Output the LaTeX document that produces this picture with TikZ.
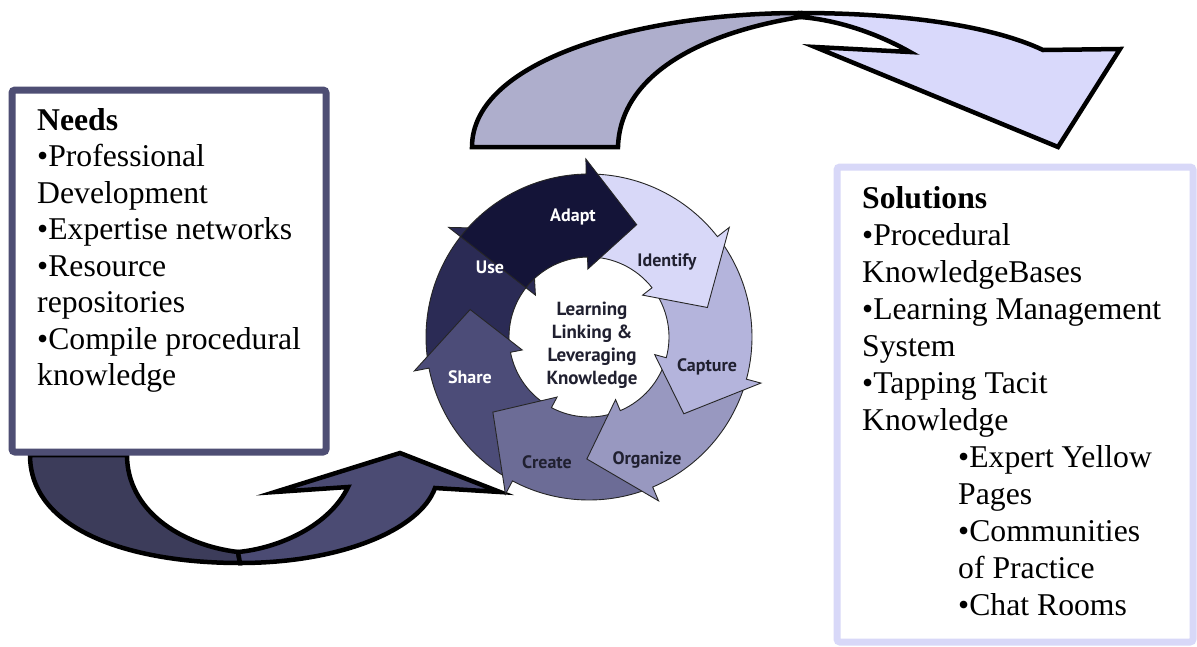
\documentclass[tikz,border=0pt]{standalone}
\usepackage{fontspec}
\setmainfont{Liberation Serif}
\newfontfamily\segfont{PT Sans}
\definecolor{topback}{HTML}{AEAECC}
\definecolor{topfront}{HTML}{D9D9FB}
\definecolor{botback}{HTML}{3C3C5A}
\definecolor{botfront}{HTML}{4B4B73}
\definecolor{needsc}{HTML}{4E4E74}
\definecolor{solc}{HTML}{D8D8F8}
\definecolor{cAdapt}{HTML}{141438}
\definecolor{cUse}{HTML}{2B2B55}
\definecolor{cShare}{HTML}{4C4C78}
\definecolor{cCreate}{HTML}{6C6C96}
\definecolor{cOrganize}{HTML}{9898C0}
\definecolor{cCapture}{HTML}{B4B4DC}
\definecolor{cIdentify}{HTML}{D8D8F8}
\definecolor{darktext}{HTML}{202030}
\tikzset{
  bigline/.style={draw=black, line width=4.5pt, line join=miter},
  seg/.style={draw=black!85, line width=0.9pt, line join=miter},
  seglabel/.style={font=\segfont\bfseries\fontsize{18}{20}\selectfont, inner sep=0},
  bodytext/.style={align=left, anchor=base west, inner sep=0},
  boxframe/.style={line width=7pt, rounded corners=3pt, fill=white, anchor=north west, inner sep=0, outer sep=0},
}
\newcommand\cycseg[3]{%
  \filldraw[seg, fill=#3] (#1:80) -- (#1:163) arc[start angle=#1, end angle=#2, radius=163]
    -- (#2:178) -- ({#2-24}:122) -- (#2:68) -- (#2:80)
    arc[start angle=#2, end angle=#1, radius=80] -- cycle;}
\begin{document}
\begin{tikzpicture}[x=1pt,y=-1pt]
\useasboundingbox (0,0) rectangle (1197,646);
\fill[white] (0,0) rectangle (1197,646);

% top curved arrow
\filldraw[bigline, fill=topback] (472,147) .. controls (472,60) and (640,13) .. (800,13)
  -- (800,17) .. controls (690,35) and (620,80) .. (618,147) -- cycle;
\filldraw[bigline, fill=topfront] (800,13) .. controls (900,13) and (990,25) .. (1043,50)
  -- (1120,49) -- (1058,147) -- (815,47) -- (910,52)
  .. controls (880,35) and (840,20) .. (800,17) -- cycle;

% bottom curved arrow
\filldraw[bigline, fill=botback] (30,455) -- (127,455) .. controls (127,510) and (180,545) .. (238,552)
  -- (240,563) .. controls (130,563) and (30,530) .. (30,455) -- cycle;
\filldraw[bigline, fill=botfront] (240,563) .. controls (340,563) and (420,530) .. (435,488)
  -- (500,492) -- (400,453) -- (275,492) -- (348,487)
  .. controls (330,525) and (280,548) .. (238,552) -- cycle;

% boxes
\node[boxframe, draw=needsc, minimum width=314pt, minimum height=362pt] (needsbox) at (12,90) {};
\node[boxframe, draw=solc, minimum width=356pt, minimum height=475pt] (solbox) at (837,167) {};

\node[bodytext, font=\fontsize{31.7}{36.5}\selectfont] (needstext) at (37,385.5) {\textbf{Needs}\\
•Professional\\
Development\\
•Expertise networks\\
•Resource\\
repositories\\
•Compile procedural\\
knowledge};

\node[bodytext, font=\fontsize{31.7}{37}\selectfont] (soltext) at (862,615) {\textbf{Solutions}\\
•Procedural\\
KnowledgeBases\\
•Learning Management\\
System\\
•Tapping Tacit\\
Knowledge\\
\hspace*{96pt}•Expert Yellow\\
\hspace*{96pt}Pages\\
\hspace*{96pt}•Communities\\
\hspace*{96pt}of Practice\\
\hspace*{96pt}•Chat Rooms};

% cycle
\begin{scope}[shift={(589,337)}]
\begin{scope}[y=1pt]
\cycseg{191}{142}{cUse}
\cycseg{-118}{-169}{cShare}
\cycseg{-67}{-118}{cCreate}
\cycseg{-15}{-67}{cOrganize}
\cycseg{38}{-15}{cCapture}
\cycseg{91}{38}{cIdentify}
\cycseg{142}{91}{cAdapt}
\end{scope}
\end{scope}

\node[seglabel, text=white] (adapt) at (573,217) {Adapt};
\node[seglabel, text=darktext] (identify) at (667,262) {Identify};
\node[seglabel, text=darktext] (capture) at (707,367) {Capture};
\node[seglabel, text=darktext] (organize) at (647,460) {Organize};
\node[seglabel, text=darktext] (create) at (547,462) {Create};
\node[seglabel, text=white] (share) at (470,377) {Share};
\node[seglabel, text=white] (use) at (490,267) {Use};
\node[seglabel, text=darktext, align=center, font=\segfont\bfseries\fontsize{19}{23}\selectfont] (core) at (592,345) {Learning\\Linking \&\\Leveraging\\Knowledge};
\end{tikzpicture}
\end{document}
